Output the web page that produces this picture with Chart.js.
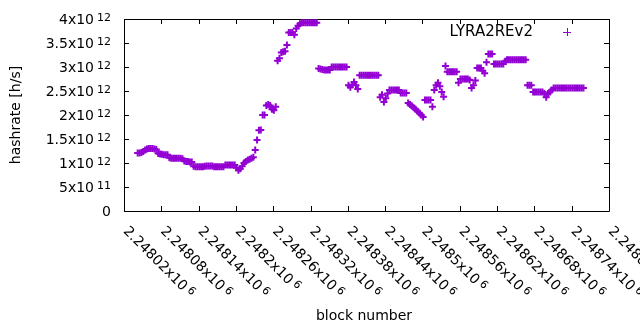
<!DOCTYPE html>
<html>
<head>
<meta charset="utf-8">
<script src="https://cdn.jsdelivr.net/npm/chart.js@4/dist/chart.umd.min.js"></script>
<style>
  html, body { margin: 0; padding: 0; background: #fff; }
  #c { display: block; }
</style>
</head>
<body>
<canvas id="c" width="640" height="330" style="width:640px;height:330px"></canvas>
<script>
// block numbers: every 3rd block starting here
var blockStart = 2248042;
var blockStep = 3;

// hashrate in units of 10^12 h/s
var hashrate = [
  1.21, 1.21, 1.22, 1.24,
  1.27, 1.29, 1.30, 1.30, 1.30, 1.29, 1.28,
  1.20, 1.19, 1.18, 1.17, 1.17, 1.17,
  1.11, 1.10, 1.10, 1.10, 1.10, 1.10, 1.10, 1.09,
  1.04, 1.03, 1.03, 1.02, 1.02,
  0.93, 0.92, 0.92, 0.92, 0.92, 0.92, 0.93,
  0.94, 0.94, 0.94, 0.94,
  0.92, 0.92, 0.92, 0.92, 0.92, 0.92,
  0.96, 0.96, 0.96, 0.96, 0.96, 0.96,
  0.90, 0.85,
  0.88, 0.93, 1.00, 1.03, 1.06, 1.08, 1.10, 1.12,
  1.27, 1.48, 1.68, 1.69,
  2.00, 2.00, 2.20, 2.22, 2.20, 2.12, 2.10, 2.17,
  3.13, 3.18, 3.30, 3.32, 3.33, 3.46, 3.72, 3.72, 3.72, 3.67, 3.80, 3.86, 3.90,
  3.92, 3.92, 3.92, 3.92, 3.92, 3.92, 3.92, 3.92, 3.92,
  2.97, 2.96, 2.95, 2.94, 2.94, 2.94, 2.94,
  3.00, 3.00, 3.00, 3.00, 3.00, 3.00, 3.00, 3.00, 3.00,
  2.62, 2.58, 2.63, 2.69, 2.62, 2.54,
  2.83, 2.83, 2.83, 2.83, 2.83, 2.83, 2.83, 2.83, 2.83, 2.83, 2.83,
  2.37, 2.42, 2.27, 2.35, 2.45,
  2.52, 2.52, 2.52, 2.52, 2.52, 2.52,
  2.46, 2.46, 2.46, 2.46,
  2.25, 2.22, 2.19, 2.15, 2.12, 2.08, 2.04, 2.00, 1.96,
  2.31, 2.31, 2.31, 2.31,
  2.17,
  2.52, 2.62, 2.67, 2.60, 2.48, 2.38,
  3.02,
  2.90, 2.90, 2.90, 2.90, 2.90, 2.90,
  2.67,
  2.75, 2.75, 2.75, 2.75, 2.75, 2.73,
  2.56, 2.62, 2.72,
  2.98, 2.98, 2.98, 2.92, 2.87,
  3.10, 3.27, 3.27, 3.27,
  3.06, 3.06, 3.06, 3.06, 3.06, 3.06,
  3.12, 3.15, 3.15, 3.15, 3.15, 3.15, 3.15, 3.15, 3.15, 3.15, 3.15, 3.15,
  2.62, 2.62, 2.62,
  2.48, 2.48, 2.48, 2.48, 2.48, 2.48,
  2.45, 2.37, 2.45, 2.48, 2.52, 2.56,
  2.56, 2.56, 2.56, 2.56, 2.56, 2.56, 2.56, 2.56,
  2.56, 2.56, 2.56, 2.56, 2.56, 2.56, 2.56, 2.56
];

// tick values and labels (mantissa / exponent)
var yTicks = [0, 5e11, 1e12, 1.5e12, 2e12, 2.5e12, 3e12, 3.5e12, 4e12];
var yTickMant = ['0', '5x10', '1x10', '1.5x10', '2x10', '2.5x10', '3x10', '3.5x10', '4x10'];
var yTickExp = ['', '11', '12', '12', '12', '12', '12', '12', '12'];

var xTicks = [2248020, 2248080, 2248140, 2248200, 2248260, 2248320, 2248380,
              2248440, 2248500, 2248560, 2248620, 2248680, 2248740, 2248800];
var xTickMant = ['2.24802x10', '2.24808x10', '2.24814x10', '2.2482x10', '2.24826x10',
                 '2.24832x10', '2.24838x10', '2.24844x10', '2.2485x10', '2.24856x10',
                 '2.24862x10', '2.24868x10', '2.24874x10', '2.2488x10'];
var xTickExp = '6';

var seriesName = 'LYRA2REv2';
var purple = 'rgb(148,0,211)';
var FONT = '"DejaVu Sans", sans-serif';

var points = [];
for (var i = 0; i < hashrate.length; i++) {
  points.push({ x: blockStart + i * blockStep, y: hashrate[i] * 1e12 });
}

var gnuplotFrame = {
  id: 'gnuplotFrame',
  beforeDatasetsDraw: function(chart) {
    var ctx = chart.ctx, a = chart.chartArea;
    var xs = chart.scales.x, ys = chart.scales.y;
    ctx.save();
    ctx.strokeStyle = '#000';
    ctx.lineWidth = 1;
    ctx.beginPath();
    ctx.rect(Math.round(a.left) + 0.5, Math.round(a.top) + 0.5,
             Math.round(a.right - a.left), Math.round(a.bottom - a.top));
    // tick marks on all four sides, pointing inward
    yTicks.forEach(function(v) {
      var py = Math.round(ys.getPixelForValue(v)) + 0.5;
      ctx.moveTo(a.left, py); ctx.lineTo(a.left + 5, py);
      ctx.moveTo(a.right, py); ctx.lineTo(a.right - 5, py);
    });
    xTicks.forEach(function(v) {
      var px = Math.round(xs.getPixelForValue(v)) + 0.5;
      ctx.moveTo(px, a.bottom); ctx.lineTo(px, a.bottom - 5);
      ctx.moveTo(px, a.top); ctx.lineTo(px, a.top + 5);
    });
    ctx.stroke();
    ctx.restore();
  },
  afterDraw: function(chart) {
    var ctx = chart.ctx, a = chart.chartArea;
    var xs = chart.scales.x, ys = chart.scales.y;
    ctx.save();
    ctx.fillStyle = '#000';
    ctx.textBaseline = 'alphabetic';

    // y tick labels
    yTicks.forEach(function(v, k) {
      var py = ys.getPixelForValue(v);
      var right = 111;
      ctx.textAlign = 'right';
      if (yTickExp[k]) {
        ctx.font = '11px ' + FONT;
        ctx.fillText(yTickExp[k], right, py + 1.5);
        var ew = ctx.measureText(yTickExp[k]).width;
        ctx.font = '14px ' + FONT;
        ctx.fillText(yTickMant[k], right - ew - 3, py + 5);
      } else {
        ctx.font = '14px ' + FONT;
        ctx.fillText(yTickMant[k], right, py + 5);
      }
    });

    // x tick labels, rotated 45 degrees
    xTicks.forEach(function(v, k) {
      var px = xs.getPixelForValue(v);
      ctx.save();
      ctx.translate(px + 2.3, a.bottom + 17.3);
      ctx.rotate(Math.PI / 4);
      ctx.textAlign = 'left';
      ctx.font = '14px ' + FONT;
      ctx.fillText(xTickMant[k], 0, 5);
      var mw = ctx.measureText(xTickMant[k]).width;
      ctx.font = '11px ' + FONT;
      ctx.fillText(xTickExp, mw + 3, 1.5);
      ctx.restore();
    });

    // axis titles
    ctx.font = '14px ' + FONT;
    ctx.textAlign = 'center';
    ctx.textBaseline = 'middle';
    ctx.fillText('block number', 364, 316);
    ctx.save();
    ctx.translate(16, 115);
    ctx.rotate(-Math.PI / 2);
    ctx.fillText('hashrate [h/s]', 0, 0);
    ctx.restore();

    // key (gnuplot style: text then sample)
    ctx.font = '15px ' + FONT;
    ctx.textAlign = 'right';
    ctx.fillText(seriesName, 533, 32);
    ctx.strokeStyle = purple;
    ctx.lineWidth = 1;
    ctx.beginPath();
    ctx.moveTo(563, 32.5); ctx.lineTo(571, 32.5);
    ctx.moveTo(567.5, 28); ctx.lineTo(567.5, 36);
    ctx.stroke();
    ctx.restore();
  }
};

var chart = new Chart(document.getElementById('c'), {
  type: 'scatter',
  data: {
    datasets: [{
      label: seriesName,
      data: points,
      pointStyle: 'cross',
      pointRadius: 3.5,
      pointHoverRadius: 3.5,
      borderColor: purple,
      backgroundColor: purple,
      borderWidth: 2
    }]
  },
  options: {
    responsive: false,
    devicePixelRatio: 1,
    animation: false,
    events: [],
    layout: { padding: { left: 124, right: 31, top: 19, bottom: 119 } },
    plugins: { legend: { display: false }, tooltip: { enabled: false } },
    scales: {
      x: { type: 'linear', min: 2248020, max: 2248800, display: false },
      y: { type: 'linear', min: 0, max: 4e12, display: false }
    }
  },
  plugins: [gnuplotFrame]
});
</script>
</body>
</html>
